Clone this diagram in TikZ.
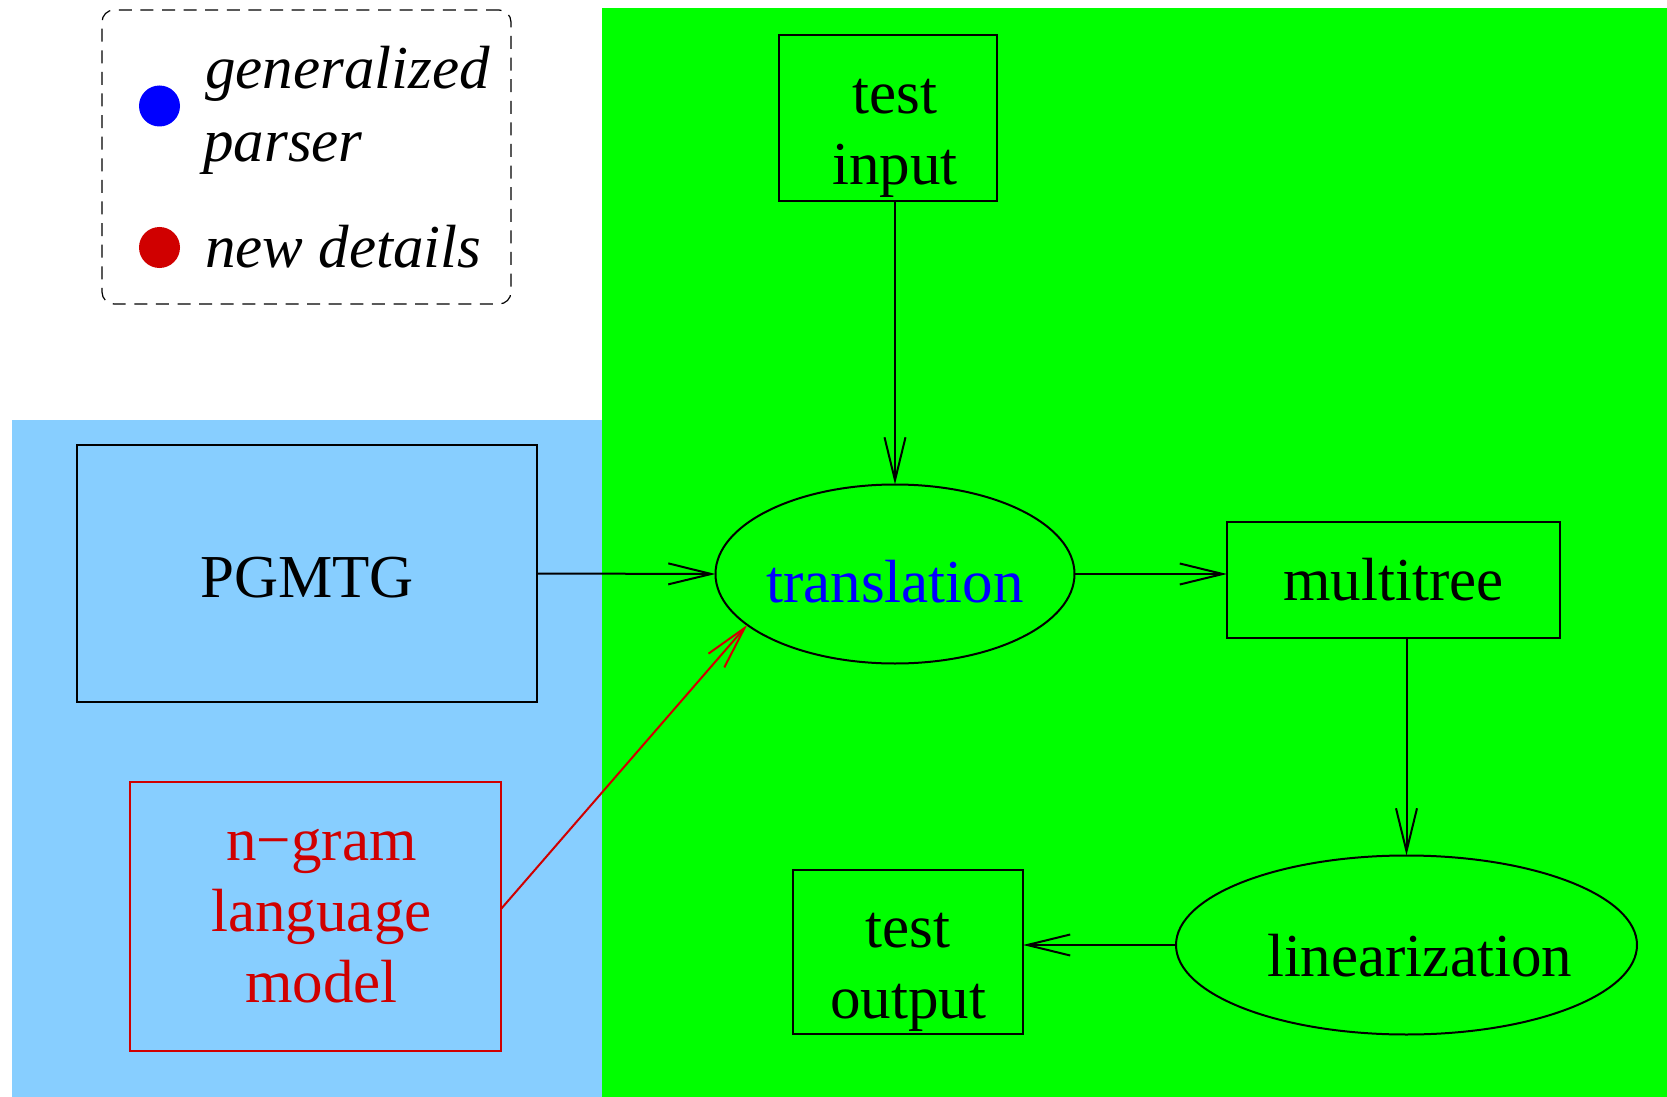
\documentclass[tikz,border=0pt]{standalone}
\usepackage{fontspec}
\setmainfont{Liberation Serif}
\usetikzlibrary{arrows.meta,shapes.geometric}
\definecolor{skyfill}{HTML}{87CEFF}
\definecolor{greenfill}{HTML}{00FF00}
\definecolor{newred}{HTML}{D00000}
\definecolor{parserblue}{HTML}{0000FF}

\begin{document}
\begin{tikzpicture}[x=0.5pt,y=-0.5pt,
  every node/.style={font=\fontsize{30.5}{35.5}\selectfont},
  box/.style={draw, line width=1pt, rectangle, inner sep=0pt, outer sep=0pt},
  oval/.style={draw, line width=1pt, ellipse, inner sep=0pt, outer sep=0pt},
  caption/.style={align=center, inner sep=0pt},
  flow/.style={line width=1pt, -{Straight Barb[length=21.5pt,width=10.5pt]}},
  legendtext/.style={anchor=base west, inner sep=0pt, font=\fontsize{30.5}{35.5}\selectfont\itshape}]

% page frame
\useasboundingbox (0,0) rectangle (1667,1097);

% background regions
\fill[greenfill] (602,8) rectangle (1667,1097);
\fill[skyfill] (12,420) rectangle (602,1097);

% legend
\node[draw, dashed, dash pattern=on 6.5pt off 4.3pt, line width=0.6pt, rounded corners=6pt,
      minimum width=204.5pt, minimum height=147pt, inner sep=0pt] (legend) at (306.5,157) {};
\fill[parserblue] (159.5,106) circle[radius=10.25pt];
\fill[newred] (159.5,247.5) circle[radius=10.25pt];
\node[legendtext] (lgA) at (205,89) {generalized};
\node[legendtext] (lgB) at (203,162) {parser};
\node[legendtext] (lgC) at (205,267) {new details};

% components (frames)
\node[box, minimum width=109pt, minimum height=83pt] (tin) at (888,118) {};
\node[box, minimum width=230pt, minimum height=128.5pt] (pg) at (307,573.5) {};
\node[oval, minimum width=179.5pt, minimum height=89.5pt] (trans) at (895,574) {};
\node[box, minimum width=166.5pt, minimum height=58pt] (mt) at (1393.5,580) {};
\node[box, draw=newred, minimum width=185.5pt, minimum height=134.5pt] (ng) at (315.5,916.5) {};
\node[oval, minimum width=230.5pt, minimum height=89.5pt] (lin) at (1406.5,945) {};
\node[box, minimum width=115pt, minimum height=82pt] (tout) at (908,952) {};

% component captions
\node[caption] (tinT) at ([xshift=3.5pt,yshift=-10pt]tin.center) {test\\input};
\node[caption] (pgT) at ([yshift=-2pt]pg.center) {PGMTG};
\node[caption, text=parserblue] (transT) at ([yshift=-3.7pt]trans.center) {translation};
\node[caption] (mtT) at (mt.center) {multitree};
\node[caption, text=newred] (ngT) at ([xshift=3pt]ng.center) {n−gram\\language\\model};
\node[caption] (linT) at ([xshift=6.5pt,yshift=-5.3pt]lin.center) {linearization};
\node[caption] (toutT) at ([yshift=-10pt]tout.center) {test\\output};

% connectors
\draw[flow] (tin.south -| trans.north) -- (trans.north);
\draw[flow] (pg.east) -- (trans.west);
\draw[flow] (trans.east) -- (trans.east -| mt.west);
\draw[flow] (mt.south -| lin.north) -- (lin.north);
\draw[flow] (lin.west) -- (lin.west -| tout.east);
\draw[flow, draw=newred] ([yshift=3.75pt]ng.east) -- (trans.199);

\end{tikzpicture}
\end{document}
